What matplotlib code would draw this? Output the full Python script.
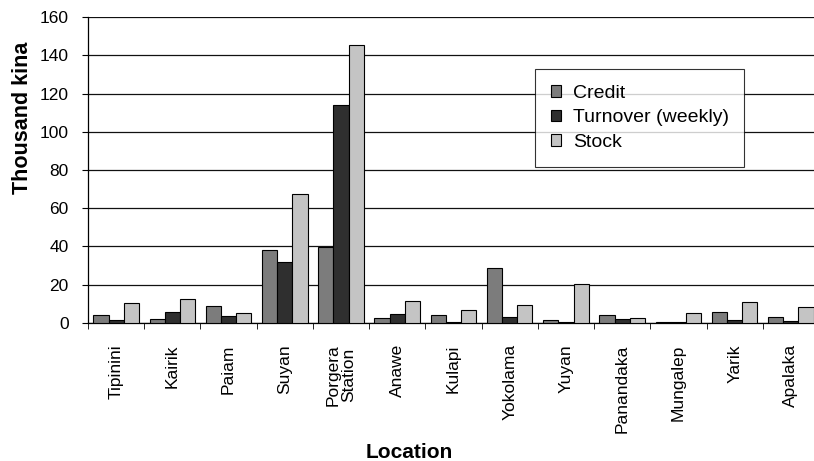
import numpy as np
import matplotlib.pyplot as plt

plt.rcParams['font.family'] = ['Liberation Sans', 'DejaVu Sans']

locations = ["Tipinini", "Kairik", "Paiam", "Suyan", "Porgera\nStation", "Anawe",
             "Kulapi", "Yokolama", "Yuyan", "Panandaka", "Mungalep", "Yarik", "Apalaka"]
credit = [3.8, 2.2, 8.6, 38.1, 39.5, 2.3, 3.8, 28.8, 1.4, 4.0, 0.5, 5.6, 3.0]
turnover = [1.4, 5.4, 3.5, 31.8, 113.9, 4.7, 0.4, 3.0, 0.3, 1.7, 0.4, 1.2, 1.0]
stock = [10.5, 12.4, 5.2, 67.4, 145.7, 11.4, 6.8, 9.4, 20.1, 2.4, 5.2, 10.8, 8.4]

series = [("Credit", credit, "#7c7c7c"),
          ("Turnover (weekly)", turnover, "#2f2f2f"),
          ("Stock", stock, "#c4c4c4")]

fig = plt.figure(figsize=(8.14, 4.61), dpi=100)
ax = fig.add_axes([0.1081, 0.300, 0.898, 0.6625])

x = np.arange(len(locations))
w = 0.27
for i, (name, vals, col) in enumerate(series):
    ax.bar(x + (i - 1) * w, vals, w, color=col, edgecolor="black",
           linewidth=0.8, label=name, zorder=3)

ax.set_xlim(-0.5, len(locations) - 0.5)
ax.set_ylim(0, 160)
ax.set_yticks(range(0, 161, 20))
ax.grid(axis="y", color="#111111", linewidth=0.9, zorder=0)
ax.set_axisbelow(True)

ax.set_xticks(x)
ax.set_xticklabels(locations, rotation=90, fontsize=12.5, linespacing=1.0)
ax.tick_params(axis="x", length=0, pad=15.5)
ax.set_xticks(np.arange(-0.5, len(locations), 1), minor=True)
ax.tick_params(axis="x", which="minor", length=4, color="black")
ax.tick_params(axis="y", labelsize=12.5, length=4, pad=10)

for s in ["top", "right"]:
    ax.spines[s].set_visible(False)
ax.spines["left"].set_linewidth(0.9)
ax.spines["bottom"].set_linewidth(0.9)

ax.set_ylabel("Thousand kina", fontsize=15.5, fontweight="bold")
ax.yaxis.set_label_coords(-0.075, 0.672)
ax.set_xlabel("Location", fontsize=15, fontweight="bold")
ax.xaxis.set_label_coords(0.439, -0.394)

leg = ax.legend(loc="upper left", bbox_to_anchor=(0.6115, 0.8307), fontsize=14,
                frameon=True, fancybox=False, edgecolor="black",
                handlelength=0.55, handleheight=0.55, borderpad=0.8,
                labelspacing=0.4, handletextpad=0.6, borderaxespad=0)
leg.get_frame().set_linewidth(0.8)
leg.set_zorder(5)

plt.savefig("out.png", dpi=100)
